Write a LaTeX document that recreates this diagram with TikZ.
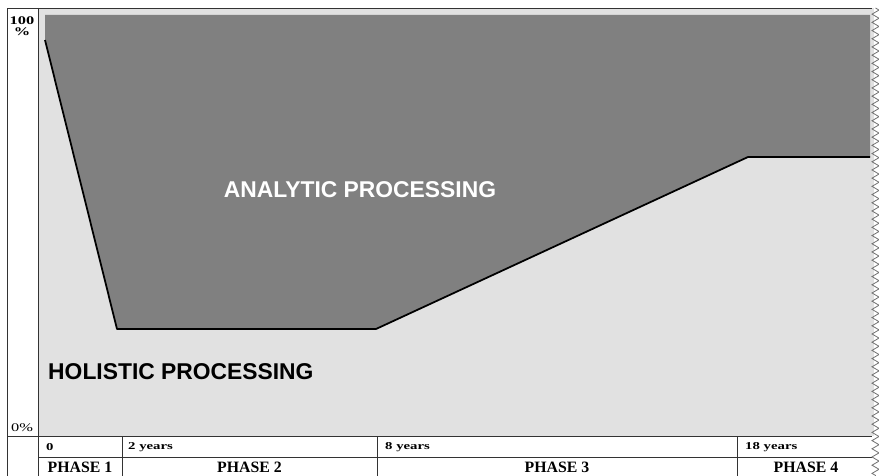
\documentclass[tikz,border=0pt]{standalone}
\usepackage{fontspec}
\setmainfont{Liberation Serif}
\setsansfont{Liberation Sans}
\newfontfamily\widefont[FakeStretch=1.4]{Liberation Serif}
\usetikzlibrary{decorations.pathmorphing}
\definecolor{cAnalytic}{HTML}{808080}
\definecolor{cHolistic}{HTML}{E1E1E1}
\definecolor{cRule}{HTML}{333333}

\begin{document}
\begin{tikzpicture}[x=0.3mm, y=-0.3mm,
    rule/.style={cRule, line width=0.8pt},
    yearlabel/.style={anchor=west, inner sep=0pt, font=\widefont\bfseries\fontsize{9}{10}\selectfont},
    phaselabel/.style={inner sep=0pt, font=\bfseries\fontsize{13.5}{14}\selectfont},
    zonelabel/.style={inner sep=0pt, font=\sffamily\bfseries\fontsize{19.5}{20}\selectfont}]
\useasboundingbox (0,0) rectangle (879,476);

% Areas
\fill[cHolistic] (38,8) rectangle (874,436);
\fill[cAnalytic] (45,15) -- (870,15) -- (870,157) -- (748,157) -- (376,329) -- (117,329) -- (45,40) -- cycle;

% Boundary between the two modes
\draw[black, line width=1.5pt, line join=round] (45,40) -- (117,329) -- (376,329) -- (748,157) -- (870,157);

% Frame and table rules
\draw[rule] (7,476) -- (7,8) -- (872,8);
\draw[rule] (38,8) -- (38,476);
\draw[rule] (7,436) -- (872,436);
\draw[rule] (38,457) -- (872,457);
\foreach \x in {122,377,737} {
    \draw[rule] (\x,436) -- (\x,476);
}

% Torn right edge
\draw[black!55, line width=0.7pt, decorate, decoration={zigzag, segment length=7, amplitude=3}] (875.5,8) -- (875.5,476);

% Percent scale
\node[font=\widefont\bfseries\fontsize{10}{10}\selectfont, align=center, inner sep=0pt] (top) at (22,26) {100\\[-1pt]\%};
\node[font=\widefont\fontsize{10}{10}\selectfont, inner sep=0pt] (bottom) at (22,428) {0\%};

% Ages
\foreach \x/\l/\n in {46/0/age0, 128/2 years/age2, 385/8 years/age8, 745/18 years/age18} {
    \node[yearlabel] (\n) at (\x,447) {\l};
}

% Phases
\foreach \x/\l/\n in {80/PHASE 1/ph1, 249.5/PHASE 2/ph2, 557/PHASE 3/ph3, 806/PHASE 4/ph4} {
    \node[phaselabel] (\n) at (\x,467) {\l};
}

% Modes
\node[zonelabel, text=white] (analytic) at (360,190) {ANALYTIC PROCESSING};
\node[zonelabel, text=black, anchor=west] (holistic) at (48,372) {HOLISTIC PROCESSING};

\end{tikzpicture}
\end{document}
